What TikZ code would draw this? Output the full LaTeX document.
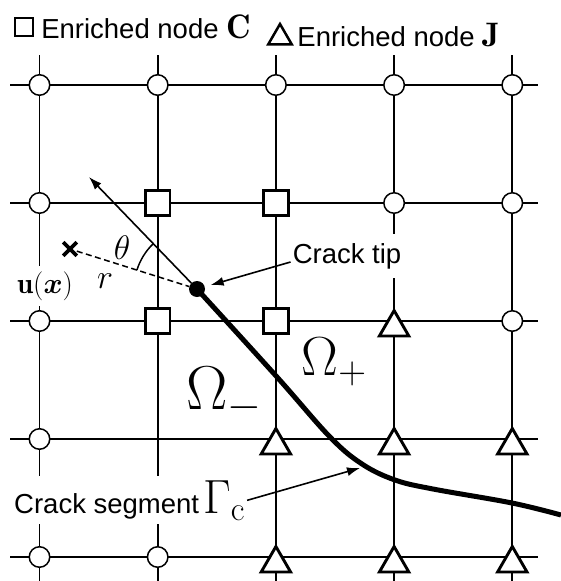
\RequirePackage{fix-cm}
\documentclass[tikz,border=0pt]{standalone}
\usepackage{amsmath,amssymb,bm}
\usepackage{fontspec}
\newfontfamily\arialfont{Liberation Sans}
\usepackage{tikz}
\usetikzlibrary{positioning,arrows.meta,shapes.geometric,shapes.misc}

\begin{document}
\begin{tikzpicture}[x=1pt, y=-1pt,
  gridline/.style={line width=1.7pt},
  plain/.style={circle, draw, line width=1.5pt, fill=white, minimum size=20.5pt, inner sep=0pt},
  nodec/.style={rectangle, draw, line width=2.8pt, fill=white, minimum size=24.5pt, inner sep=0pt},
  nodej/.style={regular polygon, regular polygon sides=3, draw, line width=2.9pt, fill=white, minimum size=34pt, inner sep=0pt, yshift=-6.5pt},
  txt/.style={font=\arialfont\fontsize{27.5}{32}\selectfont, inner sep=2pt},
  arr/.style={-{Latex[length=13pt, width=9pt]}, line width=1.6pt},
  crack/.style={line width=5pt}
]
  \useasboundingbox (0,0) rectangle (561,581);

  % mesh
  \foreach \i in {0,...,4} {
    \draw[gridline] (10, 85+118*\i) -- (538, 85+118*\i);
    \draw[gridline] (39.5+118.2*\i, 55) -- (39.5+118.2*\i, 581);
  }
  \foreach \r in {1,...,5}
    \foreach \c in {1,...,5}
      \coordinate (g\r\c) at (39.5+118.2*\c-118.2, 85+118*\r-118);

  % crack
  \draw[crack] plot[smooth, tension=0.6] coordinates
    {(197,289) (277,377) (330,437) (362,464) (395,480) (433,489) (512,503) (561,515)};

  % nodes of the mesh
  \foreach \g in {11,12,13,14,15,21,24,25,31,35,41,51,52}
    \node[plain] (n\g) at (g\g) {};
  \foreach \g in {22,23,32,33}
    \node[nodec] (n\g) at (g\g) {};
  \foreach \g in {34,43,44,45,53,54,55}
    \node[nodej] (n\g) at (g\g) {};

  % legend
  \node[nodec, minimum size=18pt, line width=2.2pt] (legc) at (24,27) {};
  \node[txt, right=5pt of legc] (legctext)
    {Enriched node {\fontsize{34}{36}\selectfont$\mathbf{C}$}};
  \node[nodej, minimum size=27pt, line width=2.5pt, yshift=0pt] (legj) at (280,31) {};
  \node[txt, right=6pt of legj, yshift=2pt] (legjtext)
    {Enriched node\hspace{8pt}{\fontsize{34}{36}\selectfont$\mathbf{J}$}};

  % crack tip and local frame
  \node[circle, fill=black, minimum size=16pt, inner sep=0pt] (tip) at (197,289) {};
  \node[cross out, draw, line width=3.6pt, minimum size=10pt, inner sep=0pt] (pt) at (70,249) {};
  \coordinate (dirend) at (89,177);
  \draw[arr] (tip) -- (dirend);
  \draw[line width=1.5pt, dash pattern=on 6pt off 3.5pt] (pt) -- (tip);
  \draw[line width=1.5pt] (tip.center) ++(-162.5:63) arc[start angle=-162.5, end angle=-134, radius=63];
  \node[font=\fontsize{34}{36}\selectfont] (theta) at (122,248) {$\theta$};
  \node[font=\fontsize{34}{36}\selectfont] (rlbl) at (105,281) {$r$};
  \node[font=\fontsize{29}{31}\selectfont, fill=white, inner xsep=1pt, inner ysep=6pt] (ux) at (45,286) {$\mathbf{u}(\bm{x})$};

  % labels
  \node[txt, fill=white, inner ysep=9pt, inner xsep=2pt] (tiplbl) at (347,256) {Crack tip};
  \draw[arr, shorten >=6pt] ([yshift=-6pt]tiplbl.west) -- (tip);
  \node[font=\fontsize{62}{64}\selectfont, anchor=base west] (omm) at (183,409) {$\Omega_-$};
  \node[font=\fontsize{55}{58}\selectfont, anchor=base west] (omp) at (298,375) {$\Omega_+$};
  \node[txt, fill=white, inner ysep=4pt, anchor=base west] (seglbl) at (12,513)
    {Crack segment\hspace{4pt}{\fontsize{48}{52}\selectfont$\Gamma_{\mathrm{c}}$}};
  \coordinate (segend) at (360,468);
  \draw[arr] (seglbl.east) -- (segend);
\end{tikzpicture}
\end{document}
